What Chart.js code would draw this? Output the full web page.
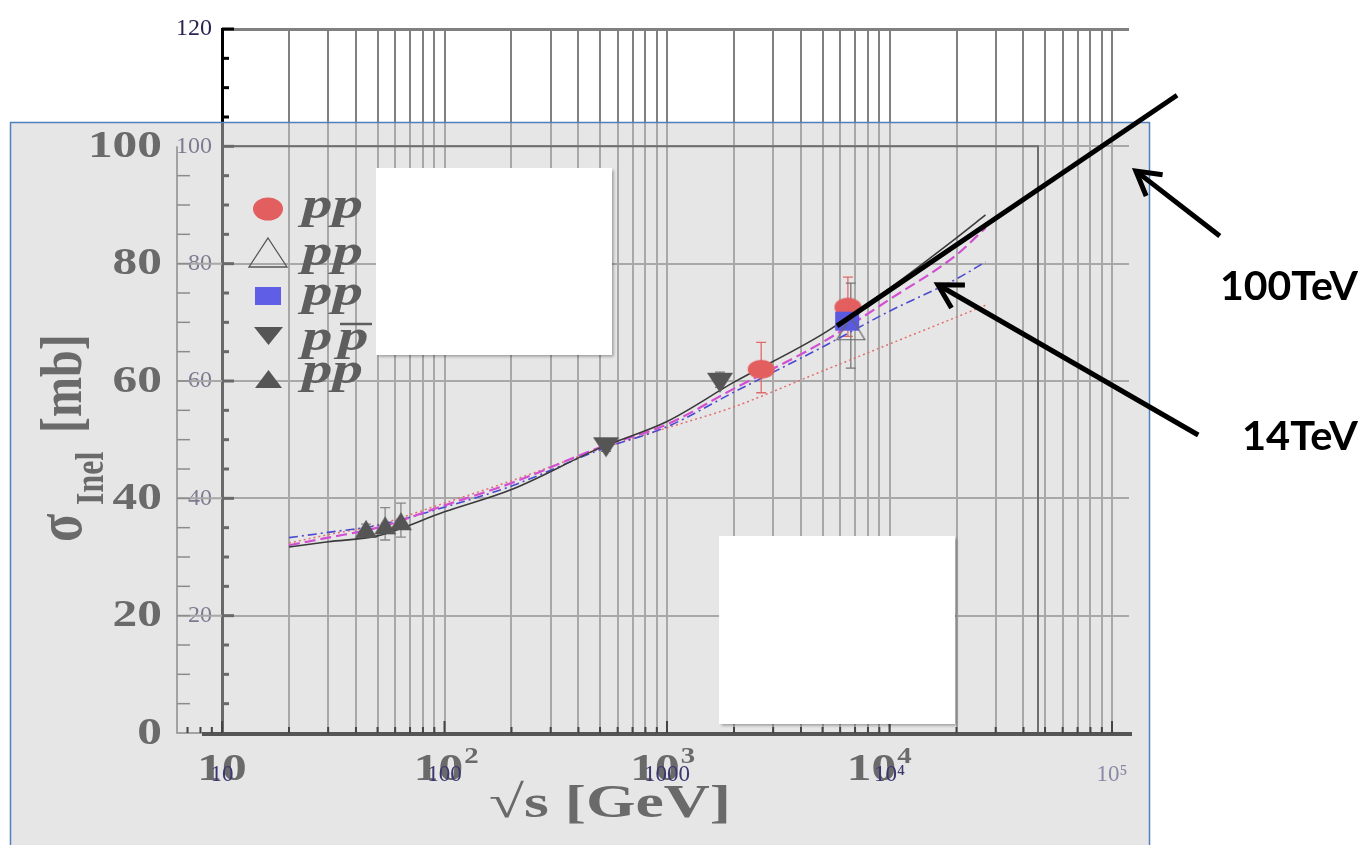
<!DOCTYPE html>
<html><head><meta charset="utf-8">
<script src="https://cdn.jsdelivr.net/npm/chart.js@4.4.1/dist/chart.umd.min.js"></script>
<style>html,body{margin:0;padding:0;background:#fff;overflow:hidden}</style>
</head><body>
<canvas id="c" width="1366" height="845"></canvas>
<script>
// ---------------- data ----------------
const fitEnergy   = [20, 30, 50, 100, 200, 500, 1000, 2000, 5000, 10000, 20000, 27000];
const fitSolid    = [31.7, 32.6, 33.6, 37.7, 41.5, 48.6, 53.1, 59.8, 68.0, 75.8, 84.4, 88.3];
const fitDashed   = [32.0, 33.3, 35.0, 38.8, 42.6, 48.7, 52.6, 58.7, 66.6, 73.9, 81.5, 86.1];
const fitDashDot  = [33.3, 34.2, 35.4, 38.5, 42.1, 48.3, 52.2, 58.1, 65.8, 71.9, 77.4, 80.3];
const fitDotted   = [32.4, 33.8, 35.5, 39.2, 43.0, 48.4, 52.0, 55.6, 61.7, 66.3, 70.9, 72.9];

const ppCircleEnergy = [2650, 6500];
const ppCircleSigma  = [62.0, 72.6];
const ppCircleErrLo  = [58.0, 67.6];
const ppCircleErrHi  = [66.6, 77.7];

const ppOpenEnergy = [6700];
const ppOpenSigma  = [69.0];
const ppOpenErrLo  = [62.2];
const ppOpenErrHi  = [76.7];

const ppSquareEnergy = [6450];
const ppSquareSigma  = [70.2];

const ppbarEnergy = [532, 1730];
const ppbarSigma  = [48.7, 59.7];
const ppbarErrLo  = [48.0, 58.9];
const ppbarErrHi  = [49.4, 61.5];

const ppIsrEnergy = [44.4, 54.1, 63.7];
const ppIsrSigma  = [34.8, 35.4, 36.1];
const ppIsrErrLo  = [34.0, 32.9, 33.4];
const ppIsrErrHi  = [35.6, 38.4, 39.2];

// thick black annotation line and arrows (data units)
const lineEnergy = [5810, 196000];
const lineSigma  = [69.4, 108.7];
const arrow100Energy = [305000, 128000];   // tail, tip
const arrow100Sigma  = [84.7, 95.8];
const arrow14Energy  = [244000, 16500];
const arrow14Sigma   = [50.8, 76.4];
const arrowLabels = ['100TeV', '14TeV'];

// tick labels
const xTickValues = [10, 100, 1000, 10000, 100000];
const xTickLabels = ['10', '100', '1000', '10\u2074', '10\u2075'];
const yTickValues = [20, 40, 60, 80, 100, 120];
const yTickLabels = ['20', '40', '60', '80', '100', '120'];

// labels of the pasted (grey) figure
const bigYValues = [0, 20, 40, 60, 80, 100];
const bigYLabels = ['0', '20', '40', '60', '80', '100'];
const bigXValues = [10, 100, 1000, 10000];
const bigXBase   = ['10', '10', '10', '10'];
const bigXSup    = ['', '2', '3', '4'];
const legendLabels = ['pp', 'pp', 'pp', 'pp\u0304', 'pp'];
const xTitle = '\u221As [GeV]';

// ---------------- helpers ----------------
const pts = (xs, ys) => xs.map((x, i) => ({x, y: ys[i]}));
function marker(w, h, fn) {
  const c = document.createElement('canvas');
  c.width = w + 2; c.height = h + 2;
  const g = c.getContext('2d');
  g.translate(1, 1);
  fn(g, w, h);
  return c;
}
const mkEllipse = marker(27, 19, (g, w, h) => { g.fillStyle = '#e35f5f'; g.beginPath(); g.ellipse(w/2, h/2, w/2, h/2, 0, 0, Math.PI*2); g.fill(); });
const mkSquare  = marker(24, 19, (g, w, h) => { g.fillStyle = '#5a5ae0'; g.fillRect(0, 0, w, h); });
const mkOpenTri = marker(29, 24, (g, w, h) => { g.strokeStyle = '#666'; g.lineWidth = 1.2; g.beginPath(); g.moveTo(w/2, 0.5); g.lineTo(w-0.5, h-0.5); g.lineTo(0.5, h-0.5); g.closePath(); g.stroke(); });
const mkDownTri = marker(26, 20, (g, w, h) => { g.fillStyle = '#555'; g.beginPath(); g.moveTo(0, 0); g.lineTo(w, 0); g.lineTo(w/2, h); g.closePath(); g.fill(); });
const mkUpTri   = marker(22, 18, (g, w, h) => { g.fillStyle = '#555'; g.beginPath(); g.moveTo(w/2, 0); g.lineTo(w, h); g.lineTo(0, h); g.closePath(); g.fill(); });

function sText(ctx, str, x, y, sx, align) {
  ctx.save(); ctx.translate(x, y); ctx.scale(sx, 1);
  ctx.textAlign = align || 'left'; ctx.fillText(str, 0, 0); ctx.restore();
}
function isIntSignificand(v) {
  const m = v / Math.pow(10, Math.floor(Math.log10(v) + 1e-9));
  return Math.abs(m - Math.round(m)) < 1e-6;
}
const underX = v => 222 + 216.5 * Math.log10(v / 10);

// ---------------- composite plugin ----------------
const composite = {
  id: 'composite',
  beforeDatasetsDraw(chart) {
    const ctx = chart.ctx, xs = chart.scales.x, ys = chart.scales.y;
    const X = v => xs.getPixelForValue(v), Y = v => ys.getPixelForValue(v);
    const L = chart.chartArea.left;
    ctx.save();
    // inner ticks of the front axis
    ctx.strokeStyle = '#000'; ctx.lineWidth = 3;
    for (let v = 5; v <= 120; v += 5) {
      const y = Y(v), len = v % 20 === 0 ? 12 : 7;
      ctx.beginPath(); ctx.moveTo(L, y); ctx.lineTo(L + len, y); ctx.stroke();
    }
    // translucent pasted figure
    ctx.fillStyle = 'rgba(206,206,206,0.51)';
    ctx.fillRect(10, 122, 1139, 740);
    ctx.strokeStyle = '#4f81bd'; ctx.lineWidth = 1.5;
    ctx.strokeRect(10.5, 122.5, 1139, 740);

    // frame of the pasted figure
    ctx.strokeStyle = '#a8a8a8'; ctx.lineWidth = 2;
    for (const v of [20, 40, 60, 80]) { ctx.beginPath(); ctx.moveTo(177, Y(v)); ctx.lineTo(L, Y(v)); ctx.stroke(); }
    ctx.strokeStyle = '#8c8c8c'; ctx.lineWidth = 1.5;
    ctx.beginPath(); ctx.moveTo(177, Y(100)); ctx.lineTo(177, Y(0)); ctx.lineTo(205, Y(0)); ctx.stroke();
    for (let v = 5; v < 100; v += 5) { ctx.beginPath(); ctx.moveTo(177, Y(v)); ctx.lineTo(190, Y(v)); ctx.stroke(); }
    ctx.strokeStyle = '#6e6e6e'; ctx.lineWidth = 2;
    ctx.beginPath(); ctx.moveTo(L + 12, Y(100)); ctx.lineTo(1038, Y(100)); ctx.lineTo(1038, Y(0)); ctx.stroke();
    // bottom axis and its small ticks
    ctx.strokeStyle = '#555'; ctx.lineWidth = 4;
    ctx.beginPath(); ctx.moveTo(202, Y(0) + 1); ctx.lineTo(1132, Y(0) + 1); ctx.stroke();
    ctx.strokeStyle = '#444'; ctx.lineWidth = 2;
    const tv = [7, 8, 9].concat(xs.ticks.map(t => t.value).filter(v => isIntSignificand(v) && v <= 1.0001e5));
    for (const v of tv) {
      const len = xTickValues.some(t => Math.abs(t - v) < 1e-6 * t) ? 12 : 6;
      ctx.beginPath(); ctx.moveTo(X(v), Y(0)); ctx.lineTo(X(v), Y(0) - len); ctx.stroke();
    }

    // big labels of the pasted figure
    ctx.fillStyle = '#6a6a6a';
    ctx.font = 'bold 38px "Liberation Serif"'; ctx.textBaseline = 'middle';
    bigYValues.forEach((v, i) => sText(ctx, bigYLabels[i], 162, Y(v) + 1, 1.3, 'right'));
    ctx.textBaseline = 'alphabetic';
    bigXValues.forEach((v, i) => {
      const cx = underX(v);
      ctx.font = 'bold 38px "Liberation Serif"';
      const w = ctx.measureText(bigXBase[i]).width * 1.3;
      sText(ctx, bigXBase[i], cx, 780, 1.3, 'center');
      if (bigXSup[i]) { ctx.font = 'bold 24px "Liberation Serif"'; sText(ctx, bigXSup[i], cx + w/2 + 1, 763, 1.2, 'left'); }
    });
    // x title
    ctx.font = 'bold 46px "Liberation Serif"';
    const tw = ctx.measureText(xTitle).width;
    sText(ctx, xTitle, 489, 817, 242 / tw, 'left');
    // y title (rotated)
    ctx.save();
    ctx.translate(81, 545); ctx.rotate(-Math.PI / 2); ctx.scale(1, 1.25);
    ctx.textAlign = 'left';
    ctx.font = 'bold 52px "Liberation Serif"'; ctx.fillText('\u03C3', 3, 0);
    ctx.font = 'bold 32px "Liberation Serif"'; ctx.fillText('Inel', 40, 17.6);
    ctx.font = 'bold 48px "Liberation Serif"'; ctx.fillText('[mb]', 112, 0);
    ctx.restore();

    // legend of the pasted figure
    const tb = [218, 265, 305, 350, 383];
    ctx.fillStyle = '#e35f5f'; ctx.beginPath(); ctx.ellipse(268, 209, 15, 11.5, 0, 0, Math.PI * 2); ctx.fill();
    ctx.strokeStyle = '#555'; ctx.lineWidth = 1.3; ctx.beginPath();
    ctx.moveTo(268, 238); ctx.lineTo(287, 267); ctx.lineTo(249, 267); ctx.closePath(); ctx.stroke();
    ctx.fillStyle = '#5e5ee6'; ctx.fillRect(255, 287, 26, 18);
    ctx.fillStyle = '#555'; ctx.beginPath(); ctx.moveTo(254, 327); ctx.lineTo(283, 327); ctx.lineTo(268.5, 345); ctx.closePath(); ctx.fill();
    ctx.beginPath(); ctx.moveTo(255, 388); ctx.lineTo(282, 388); ctx.lineTo(268.5, 370); ctx.closePath(); ctx.fill();
    ctx.fillStyle = '#5e5e5e';
    ctx.font = 'bold italic 44px "Liberation Serif"';
    const pw = ctx.measureText('pp').width, psx = 61 / pw;
    legendLabels.forEach((lab, i) => {
      if (i === 3) {
        sText(ctx, 'p', 302, tb[i], psx, 'left');
        sText(ctx, 'p', 338, tb[i], psx, 'left');
        ctx.strokeStyle = '#5e5e5e'; ctx.lineWidth = 2.5;
        ctx.beginPath(); ctx.moveTo(340, 324); ctx.lineTo(372, 324); ctx.stroke();
      } else {
        sText(ctx, lab, 302, tb[i], psx, 'left');
      }
    });

    // white cover boxes
    ctx.save();
    ctx.shadowColor = 'rgba(0,0,0,0.35)'; ctx.shadowBlur = 3; ctx.shadowOffsetX = 1.5; ctx.shadowOffsetY = 1.5;
    ctx.fillStyle = '#fff';
    ctx.fillRect(376, 168, 236, 187);
    ctx.fillRect(719, 536, 236, 188);
    ctx.restore();

    // error bars
    const errBar = (xv, lo, hi, col) => {
      ctx.strokeStyle = col; ctx.lineWidth = 1.3;
      const x = X(xv), y1 = Y(lo), y2 = Y(hi);
      ctx.beginPath(); ctx.moveTo(x, y1); ctx.lineTo(x, y2);
      ctx.moveTo(x - 5, y1); ctx.lineTo(x + 5, y1); ctx.moveTo(x - 5, y2); ctx.lineTo(x + 5, y2); ctx.stroke();
    };
    ppCircleEnergy.forEach((e, i) => errBar(e, ppCircleErrLo[i], ppCircleErrHi[i], '#e06a6a'));
    ppOpenEnergy.forEach((e, i) => errBar(e, ppOpenErrLo[i], ppOpenErrHi[i], '#777'));
    ppbarEnergy.forEach((e, i) => errBar(e, ppbarErrLo[i], ppbarErrHi[i], '#777'));
    ppIsrEnergy.forEach((e, i) => errBar(e, ppIsrErrLo[i], ppIsrErrHi[i], '#888'));
    ctx.restore();
  },
  afterDatasetsDraw(chart) {
    const ctx = chart.ctx, xs = chart.scales.x, ys = chart.scales.y;
    const X = v => xs.getPixelForValue(v), Y = v => ys.getPixelForValue(v);
    ctx.save();
    const arrow = (ex, sy) => {
      const tx = X(ex[0]), ty = Y(sy[0]), px = X(ex[1]), py = Y(sy[1]);
      ctx.strokeStyle = '#000'; ctx.lineWidth = 5; ctx.lineCap = 'butt'; ctx.lineJoin = 'miter';
      ctx.beginPath(); ctx.moveTo(tx, ty); ctx.lineTo(px + (tx - px) * 0.01, py + (ty - py) * 0.01); ctx.stroke();
      const a = Math.atan2(ty - py, tx - px);
      ctx.beginPath();
      ctx.moveTo(px + 27 * Math.cos(a - 0.52), py + 27 * Math.sin(a - 0.52));
      ctx.lineTo(px, py);
      ctx.lineTo(px + 27 * Math.cos(a + 0.52), py + 27 * Math.sin(a + 0.52));
      ctx.stroke();
    };
    arrow(arrow100Energy, arrow100Sigma);
    arrow(arrow14Energy, arrow14Sigma);
    ctx.fillStyle = '#000'; ctx.font = 'bold 40px Lato'; ctx.textBaseline = 'alphabetic';
    let w = ctx.measureText(arrowLabels[0]).width;
    sText(ctx, arrowLabels[0], 1220, 300, 138 / w, 'left');
    w = ctx.measureText(arrowLabels[1]).width;
    sText(ctx, arrowLabels[1], 1242, 450, 116 / w, 'left');
    ctx.restore();
  }
};

// ---------------- chart ----------------
const curve = (data, color, width, dash, order) => ({
  data: pts(fitEnergy, data), showLine: true, borderColor: color, borderWidth: width,
  borderDash: dash, pointRadius: 0, cubicInterpolationMode: 'monotone', order
});
const markerSet = (xs, ys, img, order) => ({
  data: pts(xs, ys), pointStyle: img, pointRadius: 12, showLine: false, order
});

new Chart(document.getElementById('c'), {
  type: 'scatter',
  data: {
    datasets: [
      { data: pts(lineEnergy, lineSigma), showLine: true, borderColor: '#000', borderWidth: 5,
        pointRadius: 0, clip: false, order: 0, borderCapStyle: 'butt' },
      markerSet(ppOpenEnergy, ppOpenSigma, mkOpenTri, 1),
      markerSet(ppSquareEnergy, ppSquareSigma, mkSquare, 2),
      markerSet(ppCircleEnergy, ppCircleSigma, mkEllipse, 3),
      markerSet(ppbarEnergy, ppbarSigma, mkDownTri, 4),
      markerSet(ppIsrEnergy, ppIsrSigma, mkUpTri, 5),
      curve(fitSolid, '#3a3a3a', 1.6, [], 10),
      curve(fitDashed, '#d24fd2', 2.2, [11, 5], 11),
      curve(fitDashDot, '#4b4bd0', 1.6, [9, 4, 2, 4], 12),
      curve(fitDotted, '#e07070', 1.5, [2, 3], 13)
    ]
  },
  options: {
    responsive: false, animation: false, devicePixelRatio: 1, events: [],
    layout: { padding: { left: 0, top: 29, right: 237, bottom: 0 } },
    plugins: { legend: { display: false }, tooltip: { enabled: false } },
    scales: {
      x: {
        type: 'logarithmic', min: 10, max: 119200,
        afterFit(s) { s.height = 112; s.paddingLeft = 0; s.paddingRight = 0; },
        border: { display: false },
        grid: {
          drawTicks: false, lineWidth: 2,
          color: c => (c.tick && isIntSignificand(c.tick.value) && c.tick.value <= 1.0001e5) ? '#808080' : 'rgba(0,0,0,0)'
        },
        ticks: {
          z: 1, autoSkip: false, maxRotation: 0, minRotation: 0, padding: 28,
          color: c => (c.tick && c.tick.value > 50000) ? '#8a8aa6' : '#3a3670',
          font: { family: '"Liberation Serif"', size: 23 },
          callback: v => { const i = xTickValues.findIndex(t => Math.abs(t - v) < 1e-6 * t); return i >= 0 ? xTickLabels[i] : ''; }
        }
      },
      y: {
        min: 0, max: 120,
        afterFit(s) { s.width = 222; s.paddingTop = 0; s.paddingBottom = 0; },
        border: { display: true, color: '#000', width: 3 },
        grid: {
          drawTicks: false,
          color: c => (c.tick && c.tick.value % 20 === 0) ? '#808080' : 'rgba(0,0,0,0)',
          lineWidth: c => (c.tick && c.tick.value === 120) ? 3 : 2
        },
        ticks: {
          stepSize: 5, autoSkip: false, padding: 10, color: '#2a2450',
          font: { family: '"Liberation Serif"', size: 24 },
          callback: v => { const i = yTickValues.indexOf(v); return i >= 0 ? yTickLabels[i] : ''; }
        }
      }
    }
  },
  plugins: [composite]
});
</script>
</body></html>
